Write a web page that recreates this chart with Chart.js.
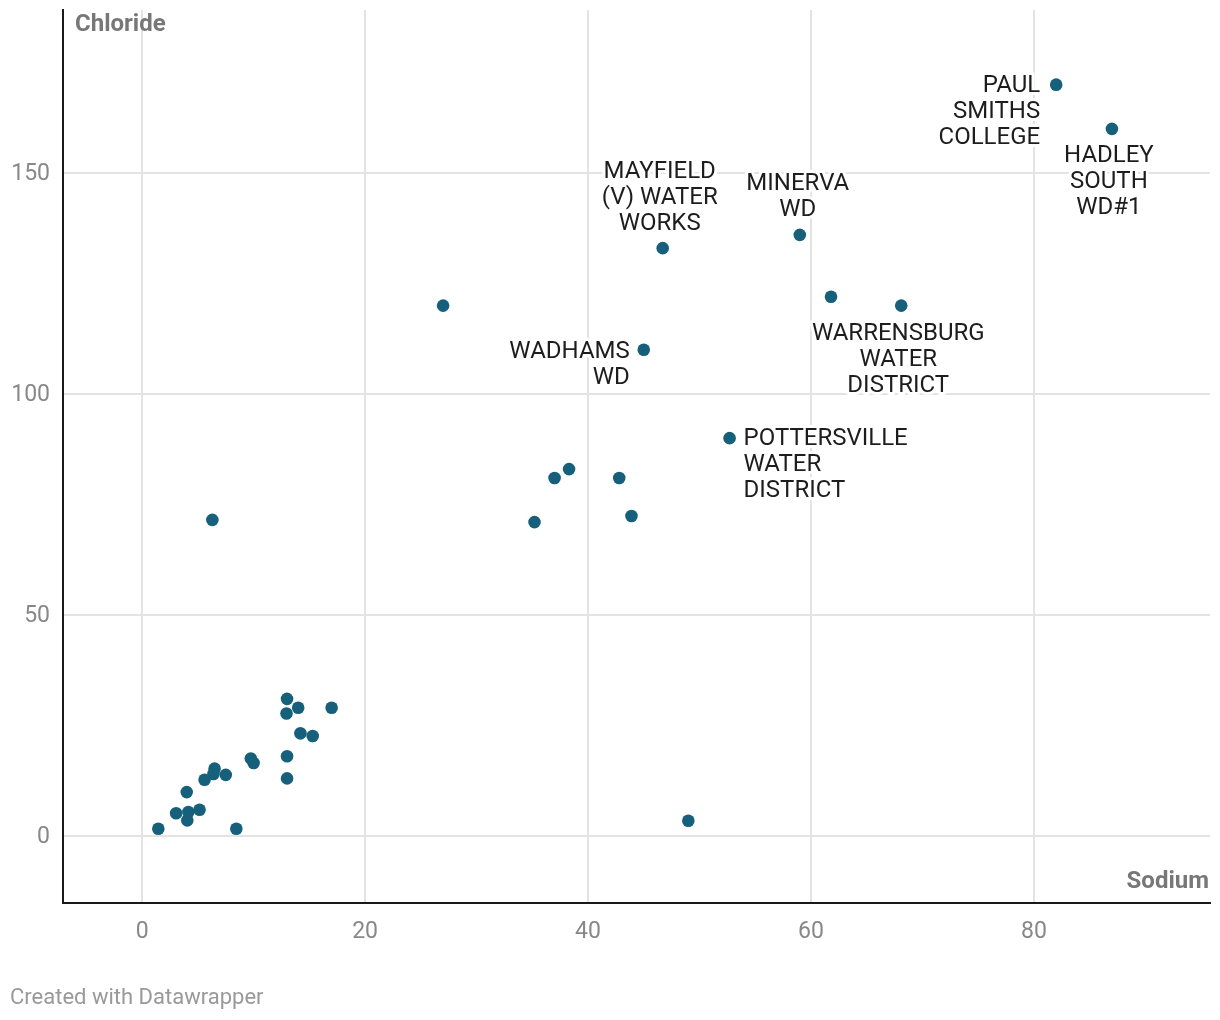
<!DOCTYPE html>
<html>
<head>
<meta charset="utf-8">
<script src="https://cdn.jsdelivr.net/npm/chart.js@4"></script>
<style>
html,body{margin:0;padding:0;background:#fff;}
#wrap{position:relative;width:1220px;height:1020px;}
</style>
</head>
<body>
<div id="wrap"><canvas id="c" width="1220" height="1020"></canvas></div>
<script>
// Data (Sodium vs Chloride)
const sodium = [82, 87, 46.7, 59.0, 61.8, 68.1, 27.0, 45.0, 52.7, 38.3, 37.0, 42.8, 35.2, 43.9, 6.3, 49.0,
  13.0, 14.0, 17.0, 12.95, 14.2, 15.3, 9.75, 10.0, 13.0, 13.0, 6.5, 6.4, 7.5, 5.6, 4.0, 3.05, 4.15, 5.15, 4.05, 1.45, 8.45];
const chloride = [170, 160, 133, 136, 122, 120, 120, 110, 90, 83, 81, 81, 71, 72.4, 71.5, 3.4,
  31, 29, 29, 27.7, 23.2, 22.6, 17.5, 16.5, 18, 13, 15.2, 14, 13.8, 12.7, 9.9, 5.1, 5.4, 5.9, 3.5, 1.6, 1.6];
const names = ["PAUL\nSMITHS\nCOLLEGE", "HADLEY\nSOUTH\nWD#1", "MAYFIELD\n(V) WATER\nWORKS", "MINERVA\nWD", "",
  "WARRENSBURG\nWATER\nDISTRICT", "", "WADHAMS\nWD", "POTTERSVILLE\nWATER\nDISTRICT"];
const xTicks = [0, 20, 40, 60, 80];
const yTicks = [0, 50, 100, 150];

// label placement (px offsets from the point)
const labelPlace = [
  {align:'right', dx:-16, dy:1},
  {align:'center', dx:-3, dy:27},
  {align:'center', dx:-3, dy:-76},
  {align:'center', dx:-2, dy:-51},
  null,
  {align:'center', dx:-3, dy:28},
  null,
  {align:'right', dx:-14, dy:2},
  {align:'left', dx:14, dy:1}
];

const points = sodium.map((x, i) => ({x: x, y: chloride[i]}));
const FONT = 'Roboto, "Noto Sans", sans-serif';

const deco = {
  id: 'deco',
  afterDatasetsDraw(chart) {
    const ctx = chart.ctx;
    const ca = chart.chartArea;
    const meta = chart.getDatasetMeta(0);
    ctx.save();
    // point labels
    ctx.font = '400 24px ' + FONT;
    ctx.textBaseline = 'middle';
    ctx.lineJoin = 'round';
    names.forEach((n, i) => {
      if (!n || !labelPlace[i]) return;
      const el = meta.data[i];
      const p = labelPlace[i];
      ctx.textAlign = p.align;
      n.split('\n').forEach((line, k) => {
        const x = el.x + p.dx, y = el.y + p.dy + k * 26;
        ctx.strokeStyle = '#fff';
        ctx.lineWidth = 6;
        ctx.strokeText(line, x, y);
        ctx.fillStyle = '#1d1d1d';
        ctx.fillText(line, x, y);
      });
    });
    // axis titles
    ctx.font = '700 24px ' + FONT;
    ctx.fillStyle = '#777';
    ctx.textAlign = 'left';
    ctx.textBaseline = 'middle';
    ctx.fillText('Chloride', ca.left + 12, 25);
    ctx.textAlign = 'right';
    ctx.fillText('Sodium', ca.right - 1, 882);
    // footer
    ctx.font = '400 22px ' + FONT;
    ctx.fillStyle = '#999';
    ctx.textAlign = 'left';
    ctx.fillText('Created with Datawrapper', 10, 998);
    ctx.restore();
  }
};

new Chart(document.getElementById('c'), {
  type: 'scatter',
  data: {
    datasets: [{
      data: points,
      backgroundColor: '#17607b',
      borderWidth: 0,
      pointRadius: 6.3,
      pointHoverRadius: 6.3
    }]
  },
  options: {
    responsive: false,
    animation: false,
    events: [],
    layout: {padding: {top: 10, right: 10, left: 0, bottom: 0}},
    plugins: {legend: {display: false}, tooltip: {enabled: false}},
    scales: {
      x: {
        type: 'linear',
        min: -7.1, max: 95.8,
        afterBuildTicks: s => { s.ticks = xTicks.map(v => ({value: v})); },
        afterFit: s => { s.height = 117; s.paddingLeft = 0; s.paddingRight = 0; },
        grid: {color: '#e3e3e3', lineWidth: 2, drawTicks: false},
        border: {display: true, color: '#1a1a1a', width: 2},
        ticks: {color: '#888', font: {family: FONT, size: 23}, padding: 15, maxRotation: 0}
      },
      y: {
        type: 'linear',
        min: -15.2, max: 186.9,
        afterBuildTicks: s => { s.ticks = yTicks.map(v => ({value: v})); },
        afterFit: s => { s.width = 63; s.paddingTop = 0; s.paddingBottom = 0; },
        grid: {color: '#e3e3e3', lineWidth: 2, drawTicks: false},
        border: {display: true, color: '#1a1a1a', width: 2},
        ticks: {color: '#888', font: {family: FONT, size: 23}, padding: 13, labelOffset: 1}
      }
    }
  },
  plugins: [deco]
});
</script>
</body>
</html>
